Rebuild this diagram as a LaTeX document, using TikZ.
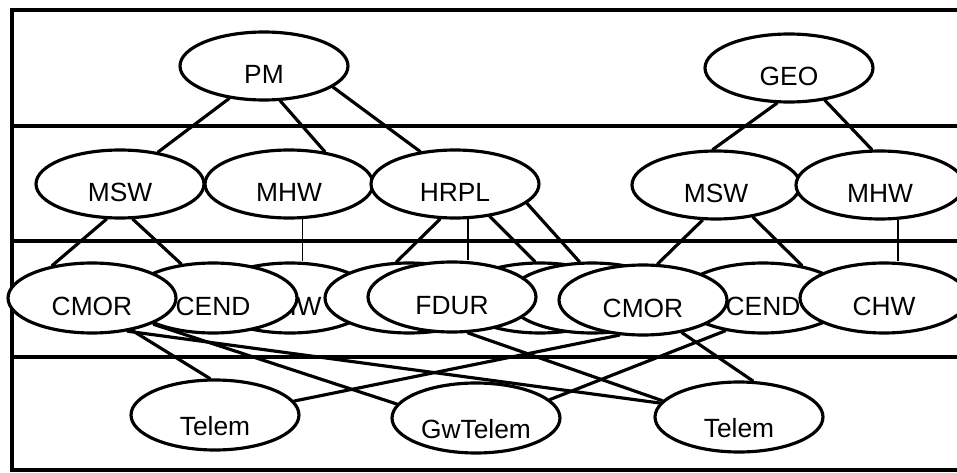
\documentclass[tikz,border=0pt]{standalone}
\usepackage{fontspec}
\setmainfont{Liberation Sans}
\usetikzlibrary{shapes.geometric}
\tikzset{
  frame/.style={draw=black, line width=1.9pt},
  unit/.style={ellipse, draw=black, fill=white, line width=1.8pt,
    minimum width=3.36cm, minimum height=1.36cm, inner sep=0pt,
    text height=19.7pt, text depth=0pt, font=\fontsize{15}{18}\selectfont},
  low/.style={unit, minimum height=1.4cm},
  leaf/.style={low, text height=23pt},
  link/.style={draw=black, line width=1.8pt, line cap=round},
  drop/.style={draw=black, line width=1.1pt}
}

\begin{document}
\begin{tikzpicture}[x=0.02cm, y=-0.02cm]
  \useasboundingbox (0,0) rectangle (957,473);
  % frame and the level bands
  \draw[frame] (975,10) -- (12,10) -- (12,470) -- (975,470);
  \foreach \y in {126,241,357} \draw[frame] (12,\y) -- (975,\y);

  % top level
  \node[unit] (PM) at (264,66) {PM};
  \node[unit] (GEO) at (789,68) {GEO};

  % second level
  \node[unit] (mswA) at (120,184) {MSW};
  \node[unit] (mhwA) at (289,184) {MHW};
  \node[unit] (hrpl) at (455,184) {HRPL};
  \node[unit] (mswB) at (716,185) {MSW};
  \node[unit] (mhwB) at (880,185) {MHW};

  % third level, back to front
  \node[low] (chwA) at (290,298) {CHW};
  \node[low] (hidA) at (409,298) {};
  \node[low] (cendA) at (213,298) {CEND};
  \node[low] (cmorA) at (92,298) {CMOR};
  \node[low] (hidB) at (540,298) {};
  \node[low] (hidC) at (592,298) {};
  \node[low] (fdur) at (452,297) {FDUR};
  \node[low] (cendB) at (763,298) {CEND};
  \node[low] (cmorB) at (643,300) {CMOR};
  \node[low] (chwB) at (884,298) {CHW};

  % bottom level
  \node[leaf] (telemA) at (215,415) {Telem};
  \node[leaf] (gwtelem) at (476,418) {GwTelem};
  \node[leaf] (telemB) at (739,417) {Telem};

  % links between the levels
  \draw[link] (PM.223) -- (mswA.40);
  \draw[link] (PM.295) -- (mhwA.42);
  \draw[link] (PM.343) -- (hrpl.137);
  \draw[link] (GEO.251) -- (mswB.95);
  \draw[link] (GEO.318) -- (mhwB.103);

  \draw[link] (mswA.249) -- (cmorA.141);
  \draw[link] (mswA.290) -- (cendA.133);
  \draw[drop] (mhwA.291) -- (mhwA.291 |- chwA.north);
  \draw[link] (hrpl.247) -- (hidA.109);
  \draw[drop] (hrpl.290) -- (hrpl.290 |- fdur.north);
  \draw[link] (hrpl.317) -- (hidB.98);
  \draw[link] (hrpl.345) -- (hidC.109);
  \draw[link] (mswB.249) -- (cmorB.68);
  \draw[link] (mswB.319) -- (cendB.40);
  \draw[drop] (mhwB.297) -- (mhwB.297 |- chwB.north);

  \draw[link] (cmorA.321) -- (telemA.98);
  \draw[link] (cmorA.317) -- (telemB.170);
  \draw[link] (cendA.204) -- (gwtelem.170);
  \draw[link] (fdur.294) -- (telemB.168);
  \draw[link] (cmorB.236) -- (telemA.10);
  \draw[link] (cmorB.320) -- (telemB.69);
  \draw[link] (cendB.221) -- (gwtelem.14);
\end{tikzpicture}
\end{document}
